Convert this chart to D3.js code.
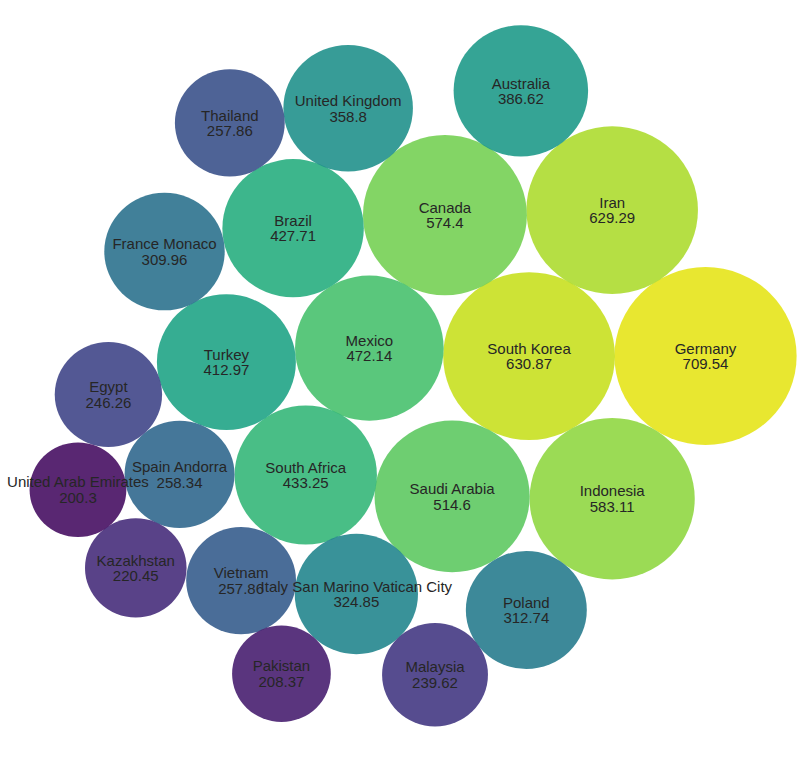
<!DOCTYPE html>
<html>
<head>
<meta charset="utf-8">
<script src="https://cdn.jsdelivr.net/npm/d3@7"></script>
<style>
  html, body { margin: 0; padding: 0; background: #ffffff; }
  svg { display: block; }
</style>
</head>
<body>
<svg id="chart" width="803" height="775"></svg>
<script>
// Categories and values
const countries = ["Germany", "South Korea", "Iran", "Indonesia", "Canada", "Saudi Arabia", "Mexico",
  "South Africa", "Brazil", "Turkey", "Australia", "United Kingdom", "Italy San Marino Vatican City",
  "Poland", "France Monaco", "Spain Andorra", "Vietnam", "Thailand", "Egypt", "Malaysia",
  "Kazakhstan", "Pakistan", "United Arab Emirates"];
const values = [709.54, 630.87, 629.29, 583.11, 574.4, 514.6, 472.14,
  433.25, 427.71, 412.97, 386.62, 358.8, 324.85,
  312.74, 309.96, 258.34, 257.86, 257.86, 246.26, 239.62,
  220.45, 208.37, 200.3];
// Packed bubble centres (data units, radius = sqrt(value))
const posX = [88.9, 37.3, 61.6, 61.6, 12.7, 14.8, -9.4,
  -28.0, -31.7, -51.2, 34.9, -15.6, -13.2,
  36.5, -69.3, -64.9, -46.9, -50.2, -85.7, 9.8,
  -77.7, -35.1, -94.6];
const posY = [9.4, 9.4, 53.1, -33.3, 51.6, -32.6, 11.8,
  -26.2, 47.7, 7.6, 88.8, 83.6, -61.8,
  -66.6, 40.7, -26.0, -57.8, 79.2, -2.1, -86.0,
  -54.0, -85.7, -30.6];

const W = 803, H = 775;
const svg = d3.select("#chart");

const x = d3.scaleLinear().domain([-117.4, 117.4]).range([0, W]);
const y = d3.scaleLinear().domain([-116.0, 116.0]).range([H, 0]);

const data = countries.map((c, i) => ({ name: c, value: values[i], x: posX[i], y: posY[i], i }));

// rank-based viridis palette (n colours sampled between the ends)
const sorted = data.slice().sort((a, b) => a.value - b.value || (b.i - a.i));
const n = data.length;
sorted.forEach((d, r) => { d.color = d3.interpolateViridis((r + 1) / (n + 1)); });

const rx = v => x(Math.sqrt(v)) - x(0);
const ry = v => y(0) - y(Math.sqrt(v));

svg.append("g").selectAll("ellipse")
  .data(data)
  .join("ellipse")
  .attr("cx", d => x(d.x))
  .attr("cy", d => y(d.y))
  .attr("rx", d => rx(d.value))
  .attr("ry", d => ry(d.value))
  .attr("fill", d => d.color)
  .attr("fill-opacity", 0.9);

const labels = svg.append("g")
  .attr("font-family", "'Liberation Sans', Arial, sans-serif")
  .attr("font-size", 15)
  .attr("fill", "#262626")
  .attr("text-anchor", "middle");

const t = labels.selectAll("text")
  .data(data)
  .join("text")
  .attr("x", d => x(d.x))
  .attr("y", d => y(d.y));
t.append("tspan").attr("x", d => x(d.x)).attr("dy", -2.3).text(d => d.name);
t.append("tspan").attr("x", d => x(d.x)).attr("dy", 15.6).text(d => d.value);
</script>
</body>
</html>
